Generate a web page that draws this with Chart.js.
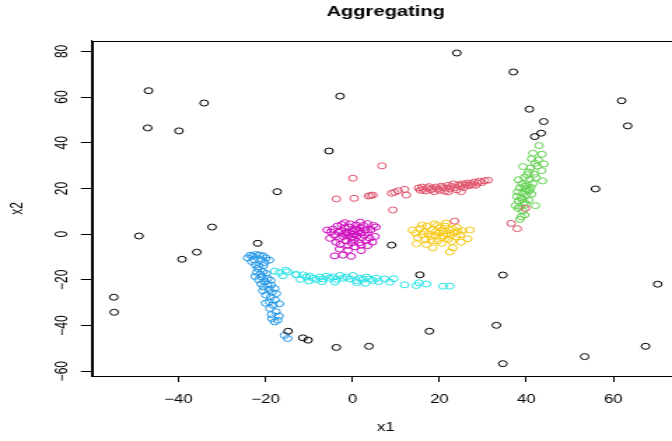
<!DOCTYPE html>
<html><head><meta charset="utf-8">
<script src="https://cdn.jsdelivr.net/npm/chart.js@4"></script>
<style>
html,body{margin:0;padding:0;overflow:hidden;background:#fff;width:672px;height:441px;}
#wrap{position:absolute;left:0;top:0;width:500px;height:441px;transform:scaleX(1.4);transform-origin:0 0;}
canvas{display:block;}
</style></head><body>
<div id="wrap"><canvas id="c" width="500" height="441"></canvas></div>
<script>
// ---- data (x1, x2) per cluster ----
const noise = [[24.0,79.3],[37.0,71.0],[-46.9,62.8],[-2.85,60.4],[61.9,58.4],[-34.1,57.4],[40.7,54.7],[44.0,49.3],[63.3,47.4],[-47.1,46.5],[-39.9,45.2],[43.4,44.2],[41.9,42.7],[-5.4,36.4],[-17.3,18.6],[55.9,19.8],[-32.3,3.1],[-49.1,-0.8],[-21.8,-4.0],[9.0,-4.8],[-35.8,-7.9],[-39.2,-11.0],[15.5,-17.8],[34.6,-17.9],[70.2,-21.9],[-54.9,-27.6],[-54.8,-34.2],[33.1,-39.9],[-14.8,-42.5],[17.7,-42.5],[-11.4,-45.4],[-10.2,-46.4],[3.8,-49.1],[-3.7,-49.6],[67.4,-49.1],[53.4,-53.6],[34.6,-56.7]];
const red = [[-3.7,15.4],[0.4,15.7],[0.1,24.5],[3.7,16.7],[4.2,16.9],[4.7,17.1],[6.8,29.9],[9.3,10.6],[9.0,17.9],[9.7,18.3],[10.5,19.0],[12.0,19.6],[12.4,17.1],[15.2,20.2],[15.6,19.2],[16.0,20.6],[16.3,19.6],[16.8,18.9],[17.2,20.2],[17.6,20.8],[18.0,19.4],[18.4,20.0],[18.8,18.6],[19.2,20.6],[19.6,19.8],[20.0,19.2],[20.4,21.0],[20.8,20.4],[21.2,18.8],[21.6,20.2],[22.0,21.4],[22.4,19.8],[22.8,20.9],[23.2,22.0],[23.6,20.4],[24.0,19.4],[24.4,21.6],[24.8,20.8],[25.2,22.0],[25.6,20.4],[26.0,21.6],[26.4,22.4],[26.8,21.2],[27.2,22.2],[27.6,21.6],[28.0,22.8],[28.4,21.4],[28.8,22.4],[29.2,23.2],[29.8,22.6],[30.4,23.4],[31.2,23.6],[22.0,18.5],[25.0,18.6],[23.5,5.7],[36.5,4.7],[37.9,2.4],[39.8,11.3]];
const green = [[42.9,38.8],[41.5,35.4],[43.6,35.0],[42.7,32.5],[44.0,30.8],[39.2,29.6],[41.0,29.0],[42.5,29.8],[43.5,27.8],[40.5,27.2],[41.8,26.2],[43.7,23.3],[38.2,23.8],[39.5,24.8],[40.8,24.0],[42.2,24.8],[39.0,22.0],[40.2,21.5],[41.5,22.2],[38.5,20.3],[39.8,19.8],[41.0,20.5],[38.0,18.5],[39.2,18.0],[40.5,18.8],[37.8,16.5],[38.8,16.0],[40.0,16.8],[41.2,17.5],[38.2,14.5],[39.5,14.0],[40.5,15.0],[37.5,12.5],[38.6,12.0],[39.8,13.0],[42.1,12.5],[38.1,11.3],[39.2,10.2],[38.8,7.6],[39.6,8.4],[38.5,6.5],[40.2,26.0],[42.0,31.0],[41.2,33.0],[39.6,21.0],[40.8,19.5],[39.0,15.2]];
const blue = [[-24.1,-10.4],[-23.5,-9.2],[-22.9,-9.5],[-22.2,-8.9],[-21.4,-9.2],[-20.6,-9.5],[-19.9,-10.4],[-19.1,-11.4],[-22.6,-11.2],[-21.0,-11.0],[-23.2,-12.0],[-20.2,-12.4],[-22.3,-13.5],[-21.5,-14.2],[-20.5,-13.8],[-21.8,-15.0],[-20.6,-16.5],[-22.0,-16.8],[-21.2,-17.6],[-19.8,-17.2],[-22.4,-18.5],[-20.8,-18.8],[-19.5,-19.4],[-21.6,-20.0],[-20.2,-20.6],[-18.8,-20.2],[-21.0,-21.8],[-19.6,-22.0],[-18.7,-22.3],[-20.4,-23.2],[-17.9,-23.8],[-19.2,-24.2],[-20.6,-24.8],[-18.5,-25.5],[-19.9,-26.7],[-17.5,-26.0],[-18.8,-27.5],[-19.1,-29.6],[-17.8,-28.8],[-20.0,-30.2],[-18.3,-31.1],[-16.8,-30.5],[-19.0,-32.5],[-17.6,-34.0],[-18.6,-35.2],[-16.9,-35.8],[-17.2,-37.7],[-17.9,-38.4],[-18.5,-37.0],[-15.6,-44.3],[-14.9,-45.7]];
const cyan = [[-17.9,-16.2],[-16.8,-16.8],[-15.3,-15.8],[-14.9,-16.5],[-16.0,-18.2],[-13.0,-17.6],[-12.9,-17.8],[-11.4,-17.8],[-10.6,-18.8],[-9.8,-18.4],[-9.1,-19.3],[-8.3,-19.8],[-7.5,-18.8],[-6.8,-19.6],[-6.0,-18.4],[-5.2,-19.3],[-4.5,-18.8],[-3.7,-19.8],[-2.9,-18.1],[-2.2,-19.3],[-1.4,-18.8],[-0.6,-19.6],[0.1,-18.1],[0.9,-20.3],[1.7,-19.3],[2.4,-19.8],[3.2,-18.8],[4.0,-19.6],[4.7,-20.3],[5.5,-19.3],[7.4,-19.6],[8.6,-21.0],[12.0,-22.2],[14.7,-22.5],[15.3,-21.3],[17.0,-21.8],[20.8,-22.8],[22.4,-22.8],[-10.0,-20.5],[-4.0,-21.0],[1.0,-21.2],[6.0,-20.8],[-7.0,-20.8],[3.0,-21.5],[9.5,-19.5],[-12.0,-19.8]];
const magenta = [[-5.8,1.8],[-5.0,1.0],[-4.5,2.2],[-4.2,-0.5],[-3.5,3.5],[-3.2,0.8],[-3.0,-2.0],[-2.6,1.5],[-2.5,4.2],[-2.2,-1.0],[-2.0,0.2],[-1.8,2.8],[-1.5,-3.0],[-1.2,1.0],[-1.0,-0.5],[-0.8,3.0],[-0.5,4.5],[-0.3,-1.8],[0.0,1.5],[0.2,0.0],[0.4,-2.5],[0.6,2.2],[0.8,4.0],[1.0,-0.8],[1.2,1.0],[1.5,-3.8],[1.7,2.8],[2.0,0.5],[2.2,-1.5],[2.5,3.8],[2.8,-0.3],[3.0,1.8],[3.2,-2.8],[3.5,0.8],[3.5,4.6],[4.3,2.0],[4.8,3.8],[5.4,3.1],[5.2,-1.0],[4.6,-3.5],[-2.8,-4.5],[-1.0,-5.0],[0.5,-5.5],[2.0,-4.8],[-3.8,-3.5],[-0.2,-3.8],[1.0,2.0],[-1.5,0.5],[0.0,-1.2],[3.5,-5.0],[-3.0,-6.5],[-1.0,-7.0],[2.0,-7.2],[-4.1,-9.5],[-2.2,-9.2],[-0.3,-9.7],[-5.2,-1.8],[4.0,-1.8],[-1.8,5.0],[1.8,5.2]];
const yellow = [[13.8,1.8],[14.5,0.5],[15.0,-1.5],[15.5,2.5],[16.0,-0.2],[16.5,1.0],[16.8,-2.5],[17.2,3.5],[17.5,0.2],[18.0,-1.0],[18.3,2.0],[18.8,4.5],[19.0,-0.5],[19.3,1.2],[19.6,-3.0],[20.0,0.5],[20.2,2.8],[20.5,-1.5],[20.8,1.5],[21.0,-0.8],[21.3,3.5],[21.6,0.2],[22.0,-2.2],[22.3,1.8],[22.6,-0.5],[23.0,2.5],[23.3,0.8],[23.8,-1.2],[24.2,1.2],[24.8,-0.3],[25.3,1.5],[26.5,-2.0],[27.0,1.8],[14.7,-4.2],[18.5,-6.0],[22.4,-7.8],[23.1,-6.0],[17.0,-4.5],[20.5,-4.0],[25.0,-3.5],[19.5,3.8],[16.0,4.0],[21.5,4.8],[24.0,3.0],[18.2,-2.8],[22.8,-3.2]];

const xTicks = [-40, -20, 0, 20, 40, 60];
const yTicks = [-60, -40, -20, 0, 20, 40, 60, 80];
const titleText = 'Aggregating';
const xLabel = 'x1';
const yLabel = 'x2';

// ---- styling ----
const FONT = "'Liberation Sans', Arial, Helvetica, sans-serif";
const fmt = v => v < 0 ? '\u2212' + Math.abs(v) : String(v);
const mk = (pts, color) => ({
  data: pts.map(p => ({x: p[0], y: p[1]})),
  borderColor: color, backgroundColor: 'rgba(0,0,0,0)',
  pointRadius: 3, pointHoverRadius: 3, pointBorderWidth: 1, showLine: false
});

const boxPlugin = {
  id: 'box',
  afterDatasetsDraw(chart) {
    const {ctx, chartArea: a} = chart;
    ctx.save();
    ctx.strokeStyle = '#000'; ctx.lineWidth = 1;
    ctx.strokeRect(Math.round(a.left) + 0.5, Math.round(a.top) + 0.5,
      Math.round(a.right - a.left), Math.round(a.bottom - a.top));
    ctx.restore();
  }
};

new Chart(document.getElementById('c'), {
  type: 'scatter',
  data: {datasets: [
    mk(noise, '#000000'), mk(red, '#DF536B'), mk(green, '#61D04F'), mk(blue, '#2297E6'),
    mk(cyan, '#28E2E5'), mk(magenta, '#CD0BBC'), mk(yellow, '#F5C710')
  ]},
  options: {
    responsive: false, animation: false, devicePixelRatio: 1,
    layout: {padding: {left: 0, right: 14.7, top: 0, bottom: 0}},
    plugins: {
      legend: {display: false}, tooltip: {enabled: false},
      title: {display: true, text: titleText, fullSize: false, color: '#000',
        font: {family: FONT, size: 14.4, weight: 'bold', lineHeight: 1.2},
        padding: {top: 3, bottom: 20.4}}
    },
    scales: {
      x: {
        type: 'linear', min: -59.9, max: 75.2,
        afterBuildTicks: s => { s.ticks = xTicks.map(v => ({value: v})); },
        afterFit: s => { s.height = 65; },
        grid: {drawOnChartArea: false, drawTicks: true, tickLength: 6, tickColor: '#000', tickWidth: 1},
        border: {display: true, color: '#000', width: 1},
        ticks: {autoSkip: false, minRotation: 0, maxRotation: 0, padding: 10, color: '#000',
          font: {family: FONT, size: 12}, callback: v => fmt(v)},
        title: {display: true, text: xLabel, color: '#000', font: {family: FONT, size: 12},
          padding: {top: 0, bottom: 6}}
      },
      y: {
        type: 'linear', min: -62.1, max: 84.7,
        afterBuildTicks: s => { s.ticks = yTicks.map(v => ({value: v})); },
        afterFit: s => { s.width = 65.71; },
        grid: {drawOnChartArea: false, drawTicks: true, tickLength: 8, tickColor: '#000', tickWidth: 1},
        border: {display: true, color: '#000', width: 1},
        ticks: {autoSkip: false, minRotation: 90, maxRotation: 90, crossAlign: 'center', padding: 3,
          color: '#000', font: {family: FONT, size: 12}, callback: v => fmt(v)},
        title: {display: true, text: yLabel, color: '#000', font: {family: FONT, size: 12},
          padding: {top: 5.7, bottom: 0}}
      }
    }
  },
  plugins: [boxPlugin]
});
</script>
</body></html>
